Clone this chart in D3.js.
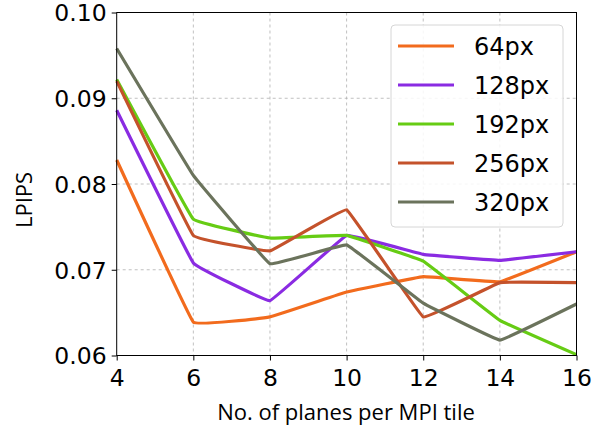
<!DOCTYPE html>
<html>
<head>
<meta charset="utf-8">
<script src="https://cdn.jsdelivr.net/npm/d3@7"></script>
<style>
  html, body { margin: 0; padding: 0; background: #fff; }
  svg { display: block; }
</style>
</head>
<body>
<div id="chart"></div>
<script>
// planes per MPI tile
const planes = [4, 6, 8, 10, 12, 14, 16];
const seriesNames = ['64px', '128px', '192px', '256px', '320px'];
const seriesColors = ['#f26b1d', '#8a2be2', '#66cc14', '#c4522b', '#6b735c'];

const lpips64  = [0.0828, 0.0639, 0.0645, 0.0674, 0.0692, 0.0686, 0.0721];
const lpips128 = [0.0886, 0.0708, 0.0664, 0.0740, 0.0718, 0.0711, 0.0721];
const lpips192 = [0.0922, 0.0759, 0.0737, 0.0740, 0.0710, 0.0641, 0.0601];
const lpips256 = [0.0920, 0.0740, 0.0722, 0.0770, 0.0645, 0.0685, 0.0685];
const lpips320 = [0.0958, 0.0810, 0.0707, 0.0729, 0.0661, 0.0618, 0.0660];

const yTicks = [0.06, 0.07, 0.08, 0.09, 0.10];
const xTicks = [4, 6, 8, 10, 12, 14, 16];

const allSeries = [lpips64, lpips128, lpips192, lpips256, lpips320];

const W = 597, H = 427;
const margin = { top: 12.5, right: 20.5, bottom: 71.5, left: 116.7 };
const iw = W - margin.left - margin.right;
const ih = H - margin.top - margin.bottom;

const svg = d3.select('#chart').append('svg')
  .attr('width', W)
  .attr('height', H);

const g = svg.append('g')
  .attr('transform', `translate(${margin.left},${margin.top})`);

const x = d3.scaleLinear().domain([4, 16]).range([0, iw]);
const y = d3.scaleLinear().domain([0.06, 0.10]).range([ih, 0]);

// grid
g.append('g')
  .selectAll('line')
  .data(xTicks.slice(1, -1))
  .join('line')
  .attr('x1', d => x(d)).attr('x2', d => x(d))
  .attr('y1', 0).attr('y2', ih)
  .attr('stroke', '#b0b0b0')
  .attr('stroke-width', 0.8)
  .attr('stroke-dasharray', '3,3');

g.append('g')
  .selectAll('line')
  .data(yTicks.slice(1, -1))
  .join('line')
  .attr('x1', 0).attr('x2', iw)
  .attr('y1', d => y(d)).attr('y2', d => y(d))
  .attr('stroke', '#b0b0b0')
  .attr('stroke-width', 0.8)
  .attr('stroke-dasharray', '3,3');

// lines
const line = d3.line()
  .x((d, i) => x(planes[i]))
  .y(d => y(d))
  .curve(d3.curveCardinal.tension(0.85));

g.append('g')
  .selectAll('path')
  .data(allSeries)
  .join('path')
  .attr('d', d => line(d))
  .attr('fill', 'none')
  .attr('stroke', (d, i) => seriesColors[i])
  .attr('stroke-width', 3.2)
  .attr('stroke-linejoin', 'round')
  .attr('stroke-linecap', 'butt');

// frame
g.append('rect')
  .attr('width', iw).attr('height', ih)
  .attr('fill', 'none')
  .attr('stroke', '#000')
  .attr('stroke-width', 1);

// axes
const tickFont = '"DejaVu Sans", sans-serif';

const xAxis = g.append('g')
  .attr('transform', `translate(0,${ih})`)
  .call(d3.axisBottom(x).tickValues(xTicks).tickFormat(d3.format('d')).tickSize(5).tickPadding(4));
const yAxis = g.append('g')
  .call(d3.axisLeft(y).tickValues(yTicks).tickFormat(d3.format('.2f')).tickSize(5).tickPadding(5));

[xAxis, yAxis].forEach(a => {
  a.select('.domain').remove();
  a.selectAll('.tick line').attr('stroke', '#000').attr('stroke-width', 1);
  a.selectAll('.tick text')
    .attr('fill', '#000')
    .style('font-family', tickFont)
    .style('font-size', '23.5px');
});
xAxis.selectAll('.tick text').attr('dy', '0.9em');
yAxis.selectAll('.tick text').attr('dy', '0.36em');

// axis labels
svg.append('text')
  .attr('x', 346)
  .attr('y', 420)
  .attr('text-anchor', 'middle')
  .style('font-family', '"Open Sans", sans-serif')
  .style('font-size', '22px')
  .text('No. of planes per MPI tile');

svg.append('text')
  .attr('transform', 'translate(32,200) rotate(-90)')
  .attr('text-anchor', 'middle')
  .style('font-family', '"Open Sans", sans-serif')
  .style('font-size', '22px')
  .text('LPIPS');

// legend
const legend = svg.append('g');
legend.append('rect')
  .attr('x', 391).attr('y', 25)
  .attr('width', 172).attr('height', 202)
  .attr('rx', 4)
  .attr('fill', '#fff')
  .attr('fill-opacity', 0.85)
  .attr('stroke', '#d6d6d6')
  .attr('stroke-width', 1);

const rowY = d3.scalePoint().domain(seriesNames).range([46, 202]);

const item = legend.selectAll('.item')
  .data(seriesNames)
  .join('g')
  .attr('class', 'item')
  .attr('transform', d => `translate(0,${rowY(d)})`);

item.append('line')
  .attr('x1', 398).attr('x2', 454)
  .attr('stroke', (d, i) => seriesColors[i])
  .attr('stroke-width', 3.2);

item.append('text')
  .attr('x', 474)
  .attr('dy', '0.36em')
  .style('font-family', tickFont)
  .style('font-size', '24px')
  .text(d => d);
</script>
</body>
</html>
